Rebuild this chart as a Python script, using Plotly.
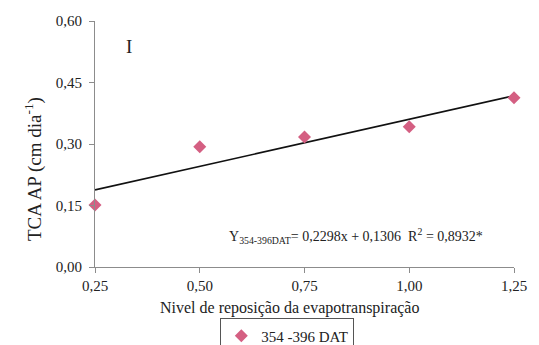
import plotly.graph_objects as go

# Evapotranspiration replacement levels and measured TCA AP (cm dia^-1)
levels = [0.25, 0.50, 0.75, 1.00, 1.25]
tca_ap = [0.151, 0.293, 0.317, 0.342, 0.413]

# Fitted linear model
slope = 0.2298
intercept = 0.1306

x_ticks = [0.25, 0.50, 0.75, 1.00, 1.25]
x_tick_text = ["0,25", "0,50", "0,75", "1,00", "1,25"]
y_ticks = [0.0, 0.15, 0.30, 0.45, 0.60]
y_tick_text = ["0,00", "0,15", "0,30", "0,45", "0,60"]

fit_x = [levels[0], levels[-1]]
fit_y = [slope * v + intercept for v in fit_x]

serif = "Liberation Serif, Times New Roman, serif"
axis_grey = "#8c8c8c"

fig = go.Figure()
fig.add_trace(go.Scatter(
    x=fit_x, y=fit_y, mode="lines",
    line=dict(color="#111111", width=1.6),
    showlegend=False, hoverinfo="skip",
))
fig.add_trace(go.Scatter(
    x=levels, y=tca_ap, mode="markers",
    marker=dict(symbol="diamond", size=10, color="#d45f82"),
    name="354 -396 DAT", cliponaxis=False,
))

# Panel label
fig.add_annotation(x=0.332, y=0.537, text="I", showarrow=False,
                   font=dict(family=serif, size=19, color="#222"))
# Regression equation
fig.add_annotation(
    x=0.874, y=0.075, showarrow=False,
    text="Y<sub>354-396DAT</sub>= 0,2298x + 0,1306  R<sup>2</sup> = 0,8932*",
    font=dict(family=serif, size=14, color="#222"),
)
# Axis titles as paper-anchored text
fig.add_annotation(
    x=-0.147, y=0.40, xref="paper", yref="paper", textangle=-90,
    xanchor="center", yanchor="middle",
    text="TCA AP (cm dia<sup>-1</sup>)", showarrow=False,
    font=dict(family=serif, size=19, color="#222"),
)
fig.add_annotation(
    x=0.465, y=-0.165, xref="paper", yref="paper",
    xanchor="center", yanchor="middle",
    text="Nivel de reposição da evapotranspiração", showarrow=False,
    font=dict(family=serif, size=16, color="#222"),
)

fig.update_layout(
    width=539, height=345,
    margin=dict(l=95, r=16, t=21, b=78),
    paper_bgcolor="white", plot_bgcolor="white",
    font=dict(family=serif, size=15, color="#222"),
    xaxis=dict(
        range=[0.25, 1.25], tickvals=x_ticks, ticktext=x_tick_text,
        showgrid=False, zeroline=False, showline=True, linecolor=axis_grey,
        linewidth=1, ticks="outside", ticklen=5, tickcolor=axis_grey,
        tickfont=dict(size=15),
    ),
    yaxis=dict(
        range=[0, 0.6], tickvals=y_ticks, ticktext=y_tick_text,
        showgrid=False, zeroline=False, showline=True, linecolor=axis_grey,
        linewidth=1, ticks="outside", ticklen=5, tickcolor=axis_grey,
        tickfont=dict(size=15), ticklabelstandoff=4,
    ),
    legend=dict(
        orientation="h", x=0.533, xref="container", xanchor="center",
        y=0.077, yref="container", yanchor="top",
        bordercolor="#555", borderwidth=1, font=dict(size=15),
        itemwidth=30,
    ),
)

fig.write_html("out.html")
